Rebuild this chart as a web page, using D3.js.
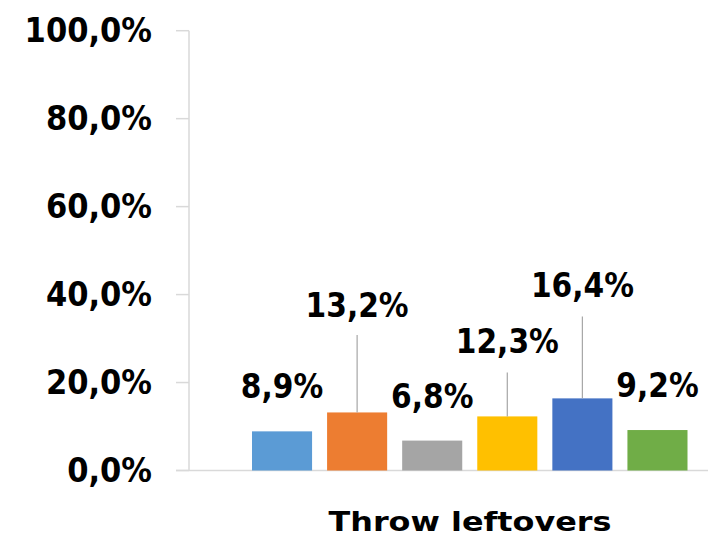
<!DOCTYPE html>
<html>
<head>
<meta charset="utf-8">
<script src="https://cdn.jsdelivr.net/npm/d3@7"></script>
<style>
  html, body { margin: 0; padding: 0; background: #ffffff; }
  svg { display: block; }
</style>
</head>
<body>
<script>
// ---- Data ----
const category = "Throw leftovers";
const series = ["S1", "S2", "S3", "S4", "S5", "S6"];
const values = [8.9, 13.2, 6.8, 12.3, 16.4, 9.2];
const labels = ["8,9%", "13,2%", "6,8%", "12,3%", "16,4%", "9,2%"];
// label baseline position and leader-line top, in value units (as placed in the original)
const labelAt = [16.5, 35.0, 14.2, 26.7, 39.5, 16.8];
const leaderTop = [null, 30.8, null, 22.3, 35.0, null];
const yTicks = [0, 20, 40, 60, 80, 100];
const yTickLabels = ["0,0%", "20,0%", "40,0%", "60,0%", "80,0%", "100,0%"];
const colors = ["#5B9BD5", "#ED7D31", "#A5A5A5", "#FFC000", "#4472C4", "#70AD47"];

const W = 708, H = 545;
const svg = d3.select("body").append("svg").attr("width", W).attr("height", H);

const y = d3.scaleLinear().domain([0, 100]).range([470.5, 30.7]);
const x = d3.scaleBand().domain(series).range([252, 687.5]).paddingInner(0.2).paddingOuter(0);

const axisX = 189;
const font = "'DejaVu Sans Condensed', 'DejaVu Sans', sans-serif";

const rows = series.map((s, i) => ({ s, v: values[i], label: labels[i], at: labelAt[i], top: leaderTop[i], color: colors[i] }));

// y axis line
svg.append("line")
  .attr("x1", axisX).attr("x2", axisX)
  .attr("y1", y(100)).attr("y2", y(0))
  .attr("stroke", "#D9D9D9").attr("stroke-width", 1.5);
// ticks
svg.selectAll(".tick").data(yTicks).enter().append("line")
  .attr("x1", 176).attr("x2", axisX)
  .attr("y1", d => y(d)).attr("y2", d => y(d))
  .attr("stroke", "#D9D9D9").attr("stroke-width", 1.5);
// baseline
svg.append("line")
  .attr("x1", 176).attr("x2", W)
  .attr("y1", y(0)).attr("y2", y(0))
  .attr("stroke", "#D9D9D9").attr("stroke-width", 1.5);

// tick labels
svg.selectAll(".tl").data(yTicks).enter().append("text")
  .attr("x", 152).attr("y", d => y(d) + 11)
  .attr("text-anchor", "end")
  .attr("font-family", font).attr("font-weight", "bold")
  .attr("font-size", 34).attr("fill", "#000")
  .style("font-stretch", "condensed")
  .text((d, i) => yTickLabels[i]);

// bars
svg.selectAll(".bar").data(rows).enter().append("rect")
  .attr("x", d => x(d.s))
  .attr("y", d => y(d.v))
  .attr("width", x.bandwidth())
  .attr("height", d => y(0) - y(d.v))
  .attr("fill", d => d.color);

// leader lines
svg.selectAll(".leader").data(rows.filter(d => d.top !== null)).enter().append("line")
  .attr("x1", d => x(d.s) + x.bandwidth() / 2)
  .attr("x2", d => x(d.s) + x.bandwidth() / 2)
  .attr("y1", d => y(d.top))
  .attr("y2", d => y(d.v))
  .attr("stroke", "#A6A6A6").attr("stroke-width", 1.2);

// data labels
svg.selectAll(".dl").data(rows).enter().append("text")
  .attr("x", d => x(d.s) + x.bandwidth() / 2)
  .attr("y", d => y(d.at))
  .attr("text-anchor", "middle")
  .attr("font-family", font).attr("font-weight", "bold")
  .attr("font-size", 33).attr("fill", "#000")
  .style("font-stretch", "condensed")
  .text(d => d.label);

// category label
svg.append("text")
  .attr("x", 470).attr("y", 531)
  .attr("text-anchor", "middle")
  .attr("font-family", "'DejaVu Sans', sans-serif").attr("font-weight", "bold")
  .attr("font-size", 27).attr("fill", "#000")
  .attr("textLength", 283).attr("lengthAdjust", "spacingAndGlyphs")
  .text(category);
</script>
</body>
</html>
